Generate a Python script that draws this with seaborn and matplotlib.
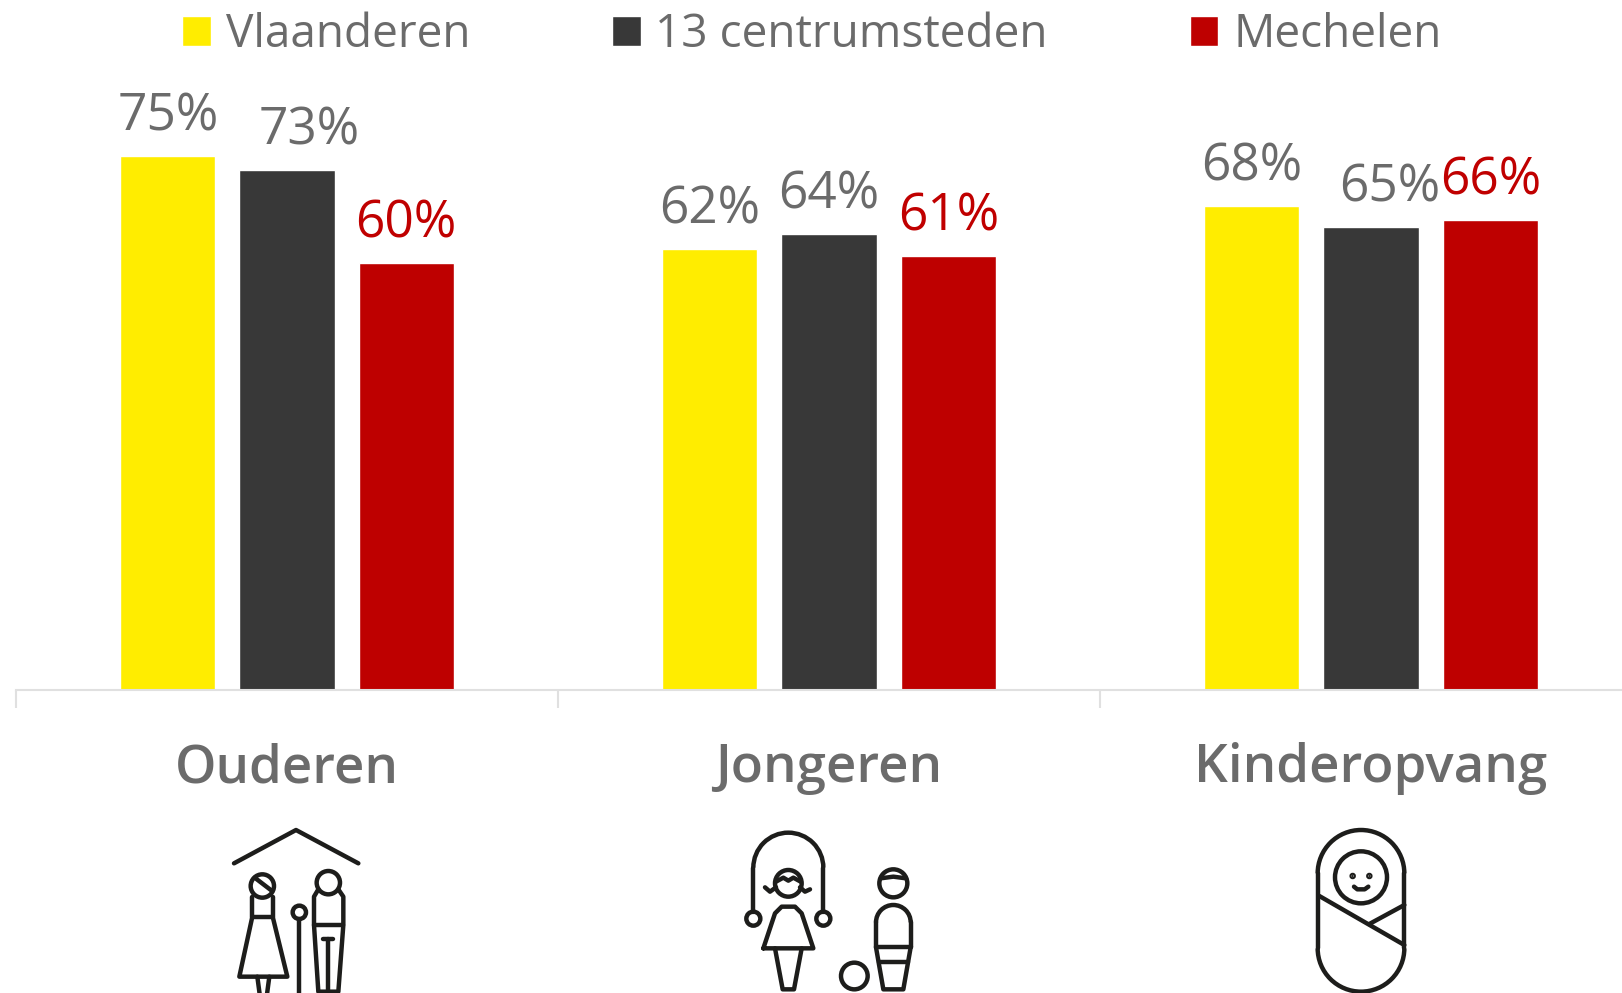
import numpy as np
import pandas as pd
import matplotlib
matplotlib.use("Agg")
import matplotlib.pyplot as plt
from matplotlib.patches import Circle, Arc
from matplotlib.ticker import FixedLocator
import seaborn as sns

categories = ["Ouderen", "Jongeren", "Kinderopvang"]
series = ["Vlaanderen", "13 centrumsteden", "Mechelen"]
vlaanderen = [75, 62, 68]
centrumsteden = [73, 64, 65]
mechelen = [60, 61, 66]
colors = ["#FFED00", "#383838", "#BE0000"]
label_colors = ["#6b6b6b", "#6b6b6b", "#C00000"]

W, H = 1622, 993
BASE = 689.5
PER_UNIT = 7.11
CAT_W = 542.0
df = pd.DataFrame({
    "Categorie": categories * 3,
    "Reeks": np.repeat(series, 3),
    "Waarde": vlaanderen + centrumsteden + mechelen,
})

sns.set_theme(style="white")
plt.rcParams["font.family"] = ["Open Sans", "DejaVu Sans"]

fig = plt.figure(figsize=(W / 100, H / 100), dpi=100)
ax = fig.add_axes([16 / W, (H - BASE) / H, (W - 16) / W, BASE / H])
sns.barplot(data=df, x="Categorie", y="Waarde", hue="Reeks", palette=colors,
            width=0.66, gap=0.2, saturation=1, ax=ax)

ax.set_xlim(-0.5, -0.5 + (W - 16) / CAT_W)
ax.set_ylim(0, BASE / PER_UNIT)
ax.set_xlabel("")
ax.set_ylabel("")
ax.set_yticks([])
for s in ["top", "left", "right"]:
    ax.spines[s].set_visible(False)
ax.spines["bottom"].set_color("#e0e0e0")
ax.spines["bottom"].set_linewidth(1.5)
ax.xaxis.set_minor_locator(FixedLocator([-0.5, 0.5, 1.5, 2.5]))
ax.tick_params(axis="x", which="minor", length=13, width=1.5, color="#e0e0e0", bottom=True)
ax.tick_params(axis="x", which="major", length=0, pad=38, labelsize=38, labelcolor="#6b6b6b")
for t in ax.get_xticklabels():
    t.set_fontweight("semibold")

# data labels, a few are nudged sideways in the original
x_nudge = [[0, 0, 0], [22, 0, 19], [0, 0, 0]]
for i, cont in enumerate(ax.containers[:3]):
    for j, bar in enumerate(cont):
        ax.annotate(f"{bar.get_height():.0f}%",
                    (bar.get_x() + bar.get_width() / 2, bar.get_height()),
                    xytext=(x_nudge[i][j], 39),
                    textcoords="offset pixels", ha="center", va="center",
                    fontsize=37, color=label_colors[i])

handles, labels = ax.get_legend_handles_labels()
ax.legend(handles, labels, ncol=3, frameon=False, loc="center left",
          bbox_to_anchor=(166 / (W - 16), (BASE - 35) / BASE),
          fontsize=33.1, labelcolor="#6b6b6b", handlelength=0.63, handleheight=0.63,
          handletextpad=0.32, columnspacing=3.08, borderpad=0, borderaxespad=0)

# pictograms under the category names
icons = fig.add_axes([0, 0, 1, 1], facecolor="none")
icons.set_xlim(0, W)
icons.set_ylim(H, 0)
icons.axis("off")
LW = 3.2
INK = "#1d1d1b"


def line(ox, oy, pts):
    xs = [ox + p[0] / 3 for p in pts]
    ys = [oy + p[1] / 3 for p in pts]
    icons.plot(xs, ys, color=INK, lw=LW, solid_capstyle="round", solid_joinstyle="round")


def circle(ox, oy, x, y, r, fill=False):
    icons.add_patch(Circle((ox + x / 3, oy + y / 3), r / 3, fill=fill, ec=INK,
                           fc=INK if fill else "none", lw=LW))


def arc(ox, oy, x, y, r, t1, t2):
    icons.add_patch(Arc((ox + x / 3, oy + y / 3), 2 * r / 3, 2 * r / 3, theta1=t1, theta2=t2,
                        ec=INK, lw=LW))


# ouderen
o = (180, 800)
line(*o, [(162, 190), (348, 90), (535, 190)])
circle(*o, 247, 258, 35)
line(*o, [(228, 236), (275, 272)])
line(*o, [(217, 292), (217, 350), (278, 350), (278, 292)])
line(*o, [(217, 350), (178, 530), (322, 530), (278, 350)])
line(*o, [(232, 530), (240, 590)])
line(*o, [(268, 530), (260, 590)])
circle(*o, 358, 337, 20)
line(*o, [(358, 357), (358, 590)])
circle(*o, 445, 248, 35)
line(*o, [(415, 268), (402, 290), (402, 375), (415, 575), (475, 575), (490, 375), (490, 290), (475, 268)])
line(*o, [(402, 375), (490, 375)])
line(*o, [(430, 417), (460, 417)])
line(*o, [(445, 417), (445, 575)])

# jongeren
o = (720, 810)
line(*o, [(100, 305), (100, 175)])
line(*o, [(310, 305), (310, 175)])
arc(*o, 205, 173, 105, 180, 360)
circle(*o, 100, 326, 21)
circle(*o, 310, 326, 21)
circle(*o, 205, 220, 40)
line(*o, [(168, 215), (190, 203), (205, 212), (220, 203), (242, 215)])
line(*o, [(135, 232), (150, 245), (168, 232)])
line(*o, [(240, 232), (255, 245), (270, 238)])
line(*o, [(130, 415), (165, 310), (185, 290), (225, 290), (245, 310), (280, 415), (130, 415)])
line(*o, [(165, 415), (188, 538), (222, 538), (245, 415)])
circle(*o, 520, 220, 42)
line(*o, [(482, 205), (520, 200), (558, 205)])
line(*o, [(468, 412), (468, 335)])
line(*o, [(572, 412), (572, 335)])
arc(*o, 520, 337, 52, 180, 360)
line(*o, [(468, 412), (572, 412)])
line(*o, [(476, 455), (564, 455)])
line(*o, [(468, 412), (490, 538), (550, 538), (572, 412)])
circle(*o, 403, 498, 40)

# kinderopvang
o = (1280, 810)
line(*o, [(113, 190), (113, 415)])
line(*o, [(373, 190), (373, 415)])
arc(*o, 243, 190, 130, 180, 360)
arc(*o, 243, 415, 130, 0, 180)
circle(*o, 243, 202, 78)
circle(*o, 218, 198, 3, fill=True)
circle(*o, 268, 198, 3, fill=True)
line(*o, [(222, 230), (232, 238), (254, 238), (265, 230)])
line(*o, [(118, 258), (373, 405)])
line(*o, [(268, 342), (373, 285)])

fig.savefig("out.png", dpi=100)
